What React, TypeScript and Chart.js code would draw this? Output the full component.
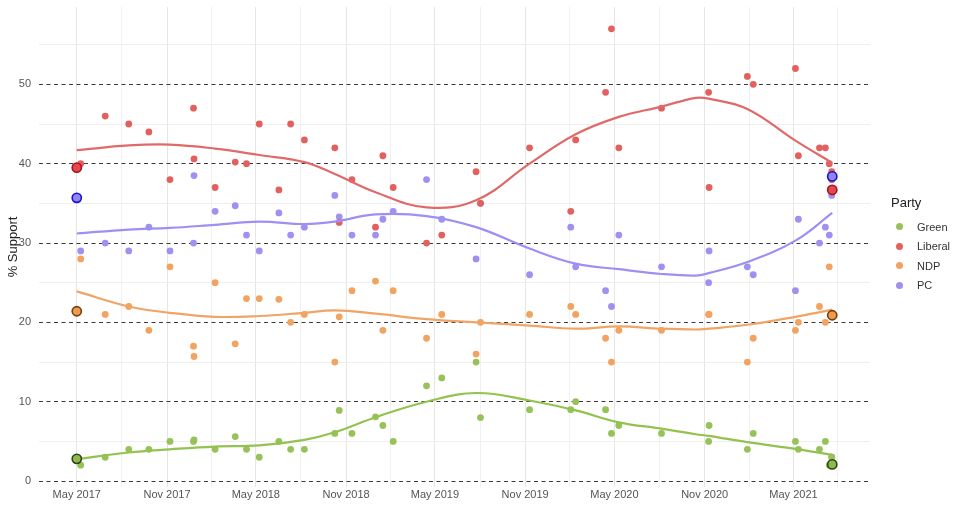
import React, { useEffect, useRef } from 'react';
import Chart from 'chart.js/auto';

// poll field dates and party support (%)
const pollDates = [
  '2017-06-07', '2017-07-27', '2017-09-13', '2017-10-24', '2017-12-06', '2018-01-23', '2018-01-24',
  '2018-03-08', '2018-04-18', '2018-05-11', '2018-06-06', '2018-07-16', '2018-08-09', '2018-09-06',
  '2018-11-07', '2018-11-16', '2018-12-12', '2019-01-29', '2019-02-13', '2019-03-06', '2019-05-13',
  '2019-06-13', '2019-08-22', '2019-08-31', '2019-12-09', '2020-03-02', '2020-03-12', '2020-05-12',
  '2020-05-24', '2020-06-08', '2020-09-03', '2020-12-08', '2020-12-09', '2021-02-25', '2021-03-09',
  '2021-06-03', '2021-06-09', '2021-07-22', '2021-08-03', '2021-08-11', '2021-08-16', '2021-08-16',
];
const liberalPolls = [40, 46, 45, 44, 38, 47, 40.6, 37, 40.2, 40, 45, 36.7, 45, 43, 42, 32.6, 38, 32, 41, 37, 30, 31, 39, 35, 42, 34, 43, 49, 57, 42, 47, 49, 37, 51, 50, 52, 41, 42, 42, 40, 39, 38];
const pcPolls = [29, 30, 29, 32, 29, 30, 38.5, 34, 34.7, 31, 29, 33.8, 31, 32, 36, 33.3, 31, 31, 33, 34, 38, 33, 28, 35, 26, 32, 27, 24, 22, 31, 27, 25, 29, 27, 26, 24, 33, 30, 32, 31, 36, 38];
const ndpPolls = [28, 21, 22, 19, 27, 17, 15.7, 25, 17.3, 23, 23, 22.9, 20, 21, 15, 20.7, 24, 25.2, 19, 24, 18, 21, 16, 20, 21, 22, 21, 18, 15, 19, 19, 21, 21, 15, 18, 19, 20, 22, 20, 27, 21, 21];
const greenPolls = [2, 3, 4, 4, 5, 5, 5.2, 4, 5.6, 4, 3, 5, 4, 4, 6, 8.9, 6, 8.1, 7, 5, 12, 13, 15, 8, 9, 9, 10, 9, 6, 7, 6, 5, 7, 4, 6, 5, 4, 4, 5, 2, 3, 3];

// election results
const electionDates = ['2017-05-30', '2021-08-17'];
const liberalElection = [39.5, 36.7];
const pcElection = [35.7, 38.4];
const ndpElection = [21.4, 20.9];
const greenElection = [2.8, 2.1];

// smoothed trend
const trendDates = [
  '2017-05-30', '2017-09-13', '2017-12-06', '2018-03-08', '2018-06-06', '2018-09-06', '2018-11-07',
  '2019-01-29', '2019-05-13', '2019-08-22', '2019-12-09', '2020-03-12', '2020-06-08', '2020-09-03',
  '2020-11-12', '2020-12-08', '2021-02-25', '2021-06-03', '2021-08-17',
];
const liberalTrend = [41.7, 42.3, 42.4, 41.9, 41.1, 40.2, 38.7, 36.4, 34.5, 35.4, 40.0, 43.7, 45.9, 47.2, 48.3, 48.2, 46.9, 42.9, 40.1];
const pcTrend = [31.2, 31.7, 31.9, 32.3, 32.7, 32.4, 32.7, 33.6, 33.4, 32.0, 29.3, 27.4, 26.7, 26.1, 25.9, 26.2, 27.6, 30.3, 33.8];
const ndpTrend = [23.9, 22.0, 21.2, 20.7, 20.8, 21.2, 21.5, 21.1, 20.4, 20.0, 19.6, 19.2, 19.5, 19.2, 19.1, 19.2, 19.7, 20.7, 21.6];
const greenTrend = [2.75, 3.6, 4.0, 4.35, 4.5, 5.2, 6.15, 8.05, 10.0, 11.1, 10.15, 8.9, 7.4, 6.6, 5.9, 5.7, 4.9, 4.05, 3.3];

const xTickDates = ['2017-05-30', '2017-11-30', '2018-05-30', '2018-11-30', '2019-05-30', '2019-11-30', '2020-05-30', '2020-11-30', '2021-05-30'];
const xTickLabels = ['May 2017', 'Nov 2017', 'May 2018', 'Nov 2018', 'May 2019', 'Nov 2019', 'May 2020', 'Nov 2020', 'May 2021'];
const yTickValues = [0, 10, 20, 30, 40, 50];

const parties = ['Green', 'Liberal', 'NDP', 'PC'];
const colors: Record<string, string> = { Green: '#97c25a', Liberal: '#e2615f', NDP: '#f1a35f', PC: '#9f91f2' };
const lineColors: Record<string, string> = { Green: '#93c24f', Liberal: '#e06a69', NDP: '#f0a465', PC: '#9c90f5' };
const electionFill: Record<string, string> = { Green: '#8fb94f', Liberal: '#e6474f', NDP: '#ee9a4f', PC: '#8f86f2' };
const electionBorder: Record<string, string> = { Green: '#2c4513', Liberal: '#a8121c', NDP: '#73400f', PC: '#1a0fd6' };

const toDay = (d: string) => Date.parse(d) / 86400000;

const pollsBy: Record<string, number[]> = { Green: greenPolls, Liberal: liberalPolls, NDP: ndpPolls, PC: pcPolls };
const electionBy: Record<string, number[]> = { Green: greenElection, Liberal: liberalElection, NDP: ndpElection, PC: pcElection };
const trendBy: Record<string, number[]> = { Green: greenTrend, Liberal: liberalTrend, NDP: ndpTrend, PC: pcTrend };

const FONT = '"Liberation Sans", Arial, Helvetica, sans-serif';

const App: React.FC = () => {
  const chartRef = useRef<HTMLCanvasElement | null>(null);
  const chartInstance = useRef<Chart | null>(null);

  useEffect(() => {
    document.body.style.margin = '0';
    if (!chartRef.current) return;
    if (chartInstance.current) chartInstance.current.destroy();
    const ctx = chartRef.current.getContext('2d');
    if (!ctx) return;

    const first = toDay(electionDates[0]);
    const last = toDay(electionDates[1]);
    const span = last - first;
    const xMin = first - span * 0.05;
    const xMax = last + span * 0.05;

    const majorX = xTickDates.map(toDay);
    const minorX: number[] = [];
    majorX.forEach((v, i) => {
      const gap = i < majorX.length - 1 ? majorX[i + 1] - v : v - majorX[i - 1];
      minorX.push(v + gap / 2);
    });
    minorX.push(majorX[0] - (majorX[1] - majorX[0]) / 2);

    const datasets: any[] = [];
    parties.forEach((p) => {
      datasets.push({
        label: p + ' election',
        data: electionDates.map((d, i) => ({ x: toDay(d), y: electionBy[p][i] })),
        backgroundColor: electionFill[p],
        borderColor: electionBorder[p],
        pointRadius: 4.6,
        pointBorderWidth: 1.6,
        order: 1,
      });
      datasets.push({
        label: p + ' trend',
        data: trendDates.map((d, i) => ({ x: toDay(d), y: trendBy[p][i] })),
        showLine: true,
        borderColor: lineColors[p],
        borderWidth: 2.2,
        pointRadius: 0,
        tension: 0.4,
        fill: false,
        order: 2,
      });
      datasets.push({
        label: p,
        data: pollDates.map((d, i) => ({ x: toDay(d), y: pollsBy[p][i] })),
        backgroundColor: colors[p],
        borderWidth: 0,
        pointRadius: 3.4,
        order: 3,
      });
    });

    chartInstance.current = new Chart(ctx, {
      type: 'scatter',
      data: { datasets },
      options: {
        responsive: false,
        animation: false,
        events: [],
        layout: { padding: { top: 7, right: 90, left: 0, bottom: 0 } },
        plugins: { legend: { display: false }, tooltip: { enabled: false } },
        scales: {
          x: {
            type: 'linear',
            min: xMin,
            max: xMax,
            afterBuildTicks: (scale: any) => {
              scale.ticks = majorX
                .concat(minorX)
                .filter((v) => v >= xMin && v <= xMax)
                .sort((a, b) => a - b)
                .map((v) => ({ value: v }));
            },
            afterFit: (scale: any) => {
              scale.height = 38;
              scale.paddingLeft = 0;
              scale.paddingRight = 0;
            },
            ticks: {
              autoSkip: false,
              maxRotation: 0,
              padding: 1,
              color: '#555555',
              font: { family: FONT, size: 11 },
              callback: (value: any) => {
                const i = majorX.findIndex((v) => Math.abs(v - Number(value)) < 0.5);
                return i >= 0 ? xTickLabels[i] : '';
              },
            },
            grid: {
              drawTicks: false,
              color: (c: any) => {
                const isMajor = c.tick && majorX.some((v) => Math.abs(v - c.tick.value) < 0.5);
                return isMajor ? '#e6e6e6' : '#f0f0f0';
              },
              lineWidth: 1,
            },
            border: { display: false },
          },
          y: {
            min: -0.75,
            max: 59.75,
            afterBuildTicks: (scale: any) => {
              const t: { value: number }[] = [];
              yTickValues.forEach((v) => {
                t.push({ value: v });
                t.push({ value: v + 5 });
              });
              scale.ticks = t;
            },
            afterFit: (scale: any) => {
              scale.width = 39;
              scale.paddingTop = 0;
              scale.paddingBottom = 0;
            },
            ticks: {
              padding: 8,
              color: '#555555',
              font: { family: FONT, size: 11 },
              callback: (value: any) => (yTickValues.includes(Number(value)) ? String(value) : ''),
            },
            grid: {
              drawTicks: false,
              color: (c: any) => (c.tick && c.tick.value % 10 === 0 ? '#3a3a3a' : '#efefef'),
              lineWidth: 1,
            },
            border: {
              display: false,
              dash: (c: any) => (c.tick && c.tick.value % 10 === 0 ? [4, 3.5] : []),
            },
            title: {
              display: true,
              text: '% Support',
              color: '#222222',
              font: { family: FONT, size: 13 },
              padding: { top: 6, bottom: 0 },
            },
          },
        },
      },
    } as any);

    return () => {
      if (chartInstance.current) {
        chartInstance.current.destroy();
        chartInstance.current = null;
      }
    };
  }, []);

  return (
    <div style={{ position: 'relative', width: 960, height: 525, fontFamily: FONT, background: '#ffffff' }}>
      <canvas ref={chartRef} width={960} height={525} style={{ display: 'block' }} />
      <div style={{ position: 'absolute', left: 891, top: 195, fontSize: 13, color: '#222222' }}>Party</div>
      {parties.map((p, i) => (
        <div
          key={p}
          style={{ position: 'absolute', left: 896, top: 219 + i * 19.5, height: 15, display: 'flex', alignItems: 'center', fontSize: 11, color: '#333333' }}
        >
          <span style={{ width: 7, height: 7, borderRadius: '50%', background: colors[p], display: 'inline-block' }} />
          <span style={{ marginLeft: 14 }}>{p}</span>
        </div>
      ))}
    </div>
  );
};

export default App;
